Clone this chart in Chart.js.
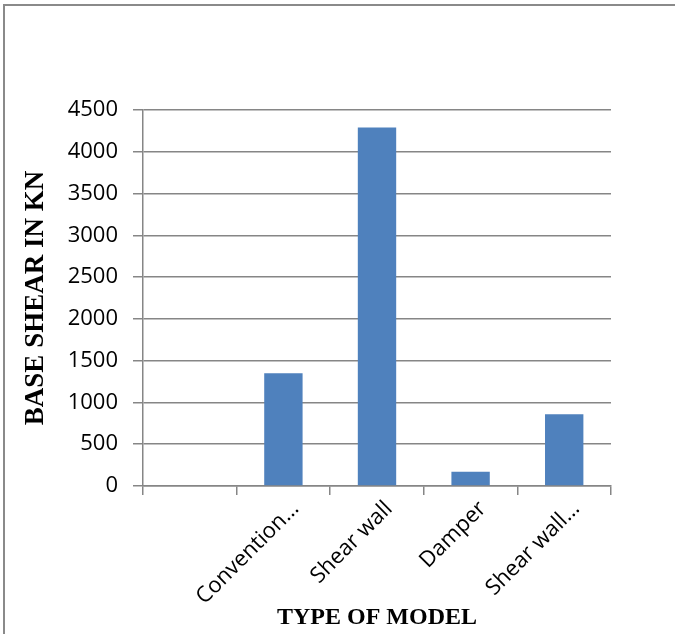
<!DOCTYPE html>
<html>
<head>
<meta charset="utf-8">
<script src="https://cdn.jsdelivr.net/npm/chart.js@4/dist/chart.umd.min.js"></script>
<style>
    html, body { margin: 0; padding: 0; background: #fff; }
    #wrap { position: relative; width: 675px; height: 634px; }
    #frame {
        position: absolute; left: 3px; top: 4px; right: 0; bottom: 0;
        border-top: 2px solid #8a8a8a; border-left: 2px solid #8a8a8a;
        pointer-events: none;
    }
</style>
</head>
<body>
<div id="wrap">
    <canvas id="grafico" width="675" height="634"></canvas>
    <div id="frame"></div>
</div>
<script>
// Datos del grafico
const categorias = ['', 'Convention\u2026', 'Shear wall', 'Damper', 'Shear wall\u2026'];
const cortanteBasal = [null, 1350, 4290, 170, 860];
const ticksY = [0, 500, 1000, 1500, 2000, 2500, 3000, 3500, 4000, 4500];

const gris = '#868686';
const fuenteTicks = { family: "'Open Sans', sans-serif", size: 22 };
const fuenteTituloX = { family: "'Liberation Serif', 'Times New Roman', serif", size: 24, weight: 'bold' };
const fuenteTituloY = { family: "'Liberation Serif', 'Times New Roman', serif", size: 27, weight: 'bold' };

const ctx = document.getElementById('grafico').getContext('2d');
const grafico = new Chart(ctx, {
    type: 'bar',
    data: {
        labels: categorias,
        datasets: [{
            label: 'BASE SHEAR IN KN',
            data: cortanteBasal,
            backgroundColor: '#4f81bd',
            borderWidth: 0,
            categoryPercentage: 1,
            barPercentage: 0.41
        }]
    },
    options: {
        responsive: false,
        animation: false,
        plugins: {
            legend: { display: false },
            tooltip: { enabled: false }
        },
        layout: {
            padding: { left: 18, right: 64, top: 110, bottom: 2 }
        },
        scales: {
            x: {
                offset: true,
                grid: {
                    offset: true,
                    drawOnChartArea: false,
                    drawTicks: true,
                    tickLength: 9,
                    color: gris,
                    lineWidth: 1.5
                },
                border: { display: true, color: gris, width: 1.5 },
                ticks: {
                    color: '#000',
                    font: fuenteTicks,
                    maxRotation: 45,
                    minRotation: 45,
                    autoSkip: false,
                    padding: 1,
                    labelOffset: 12
                },
                title: {
                    display: true,
                    text: 'TYPE OF MODEL',
                    color: '#000',
                    font: fuenteTituloX,
                    padding: { top: 0, bottom: 0 }
                },
                afterFit: function(scale) {
                    scale.height = 634 - 486 - 2;
                }
            },
            y: {
                min: 0,
                max: 4500,
                afterBuildTicks: function(scale) {
                    scale.ticks = ticksY.map(v => ({ value: v }));
                },
                grid: {
                    color: gris,
                    lineWidth: 1.5,
                    drawTicks: true,
                    tickLength: 10
                },
                border: { display: true, color: gris, width: 1.5 },
                ticks: {
                    color: '#000',
                    font: fuenteTicks,
                    padding: 15,
                    callback: function(value) {
                        return String(value);
                    }
                },
                title: {
                    display: true,
                    text: 'BASE SHEAR IN KN',
                    color: '#000',
                    font: fuenteTituloY,
                    padding: { top: 2, bottom: 0 }
                },
                afterFit: function(scale) {
                    scale.width = 143 - 18;
                }
            }
        }
    }
});
</script>
</body>
</html>
